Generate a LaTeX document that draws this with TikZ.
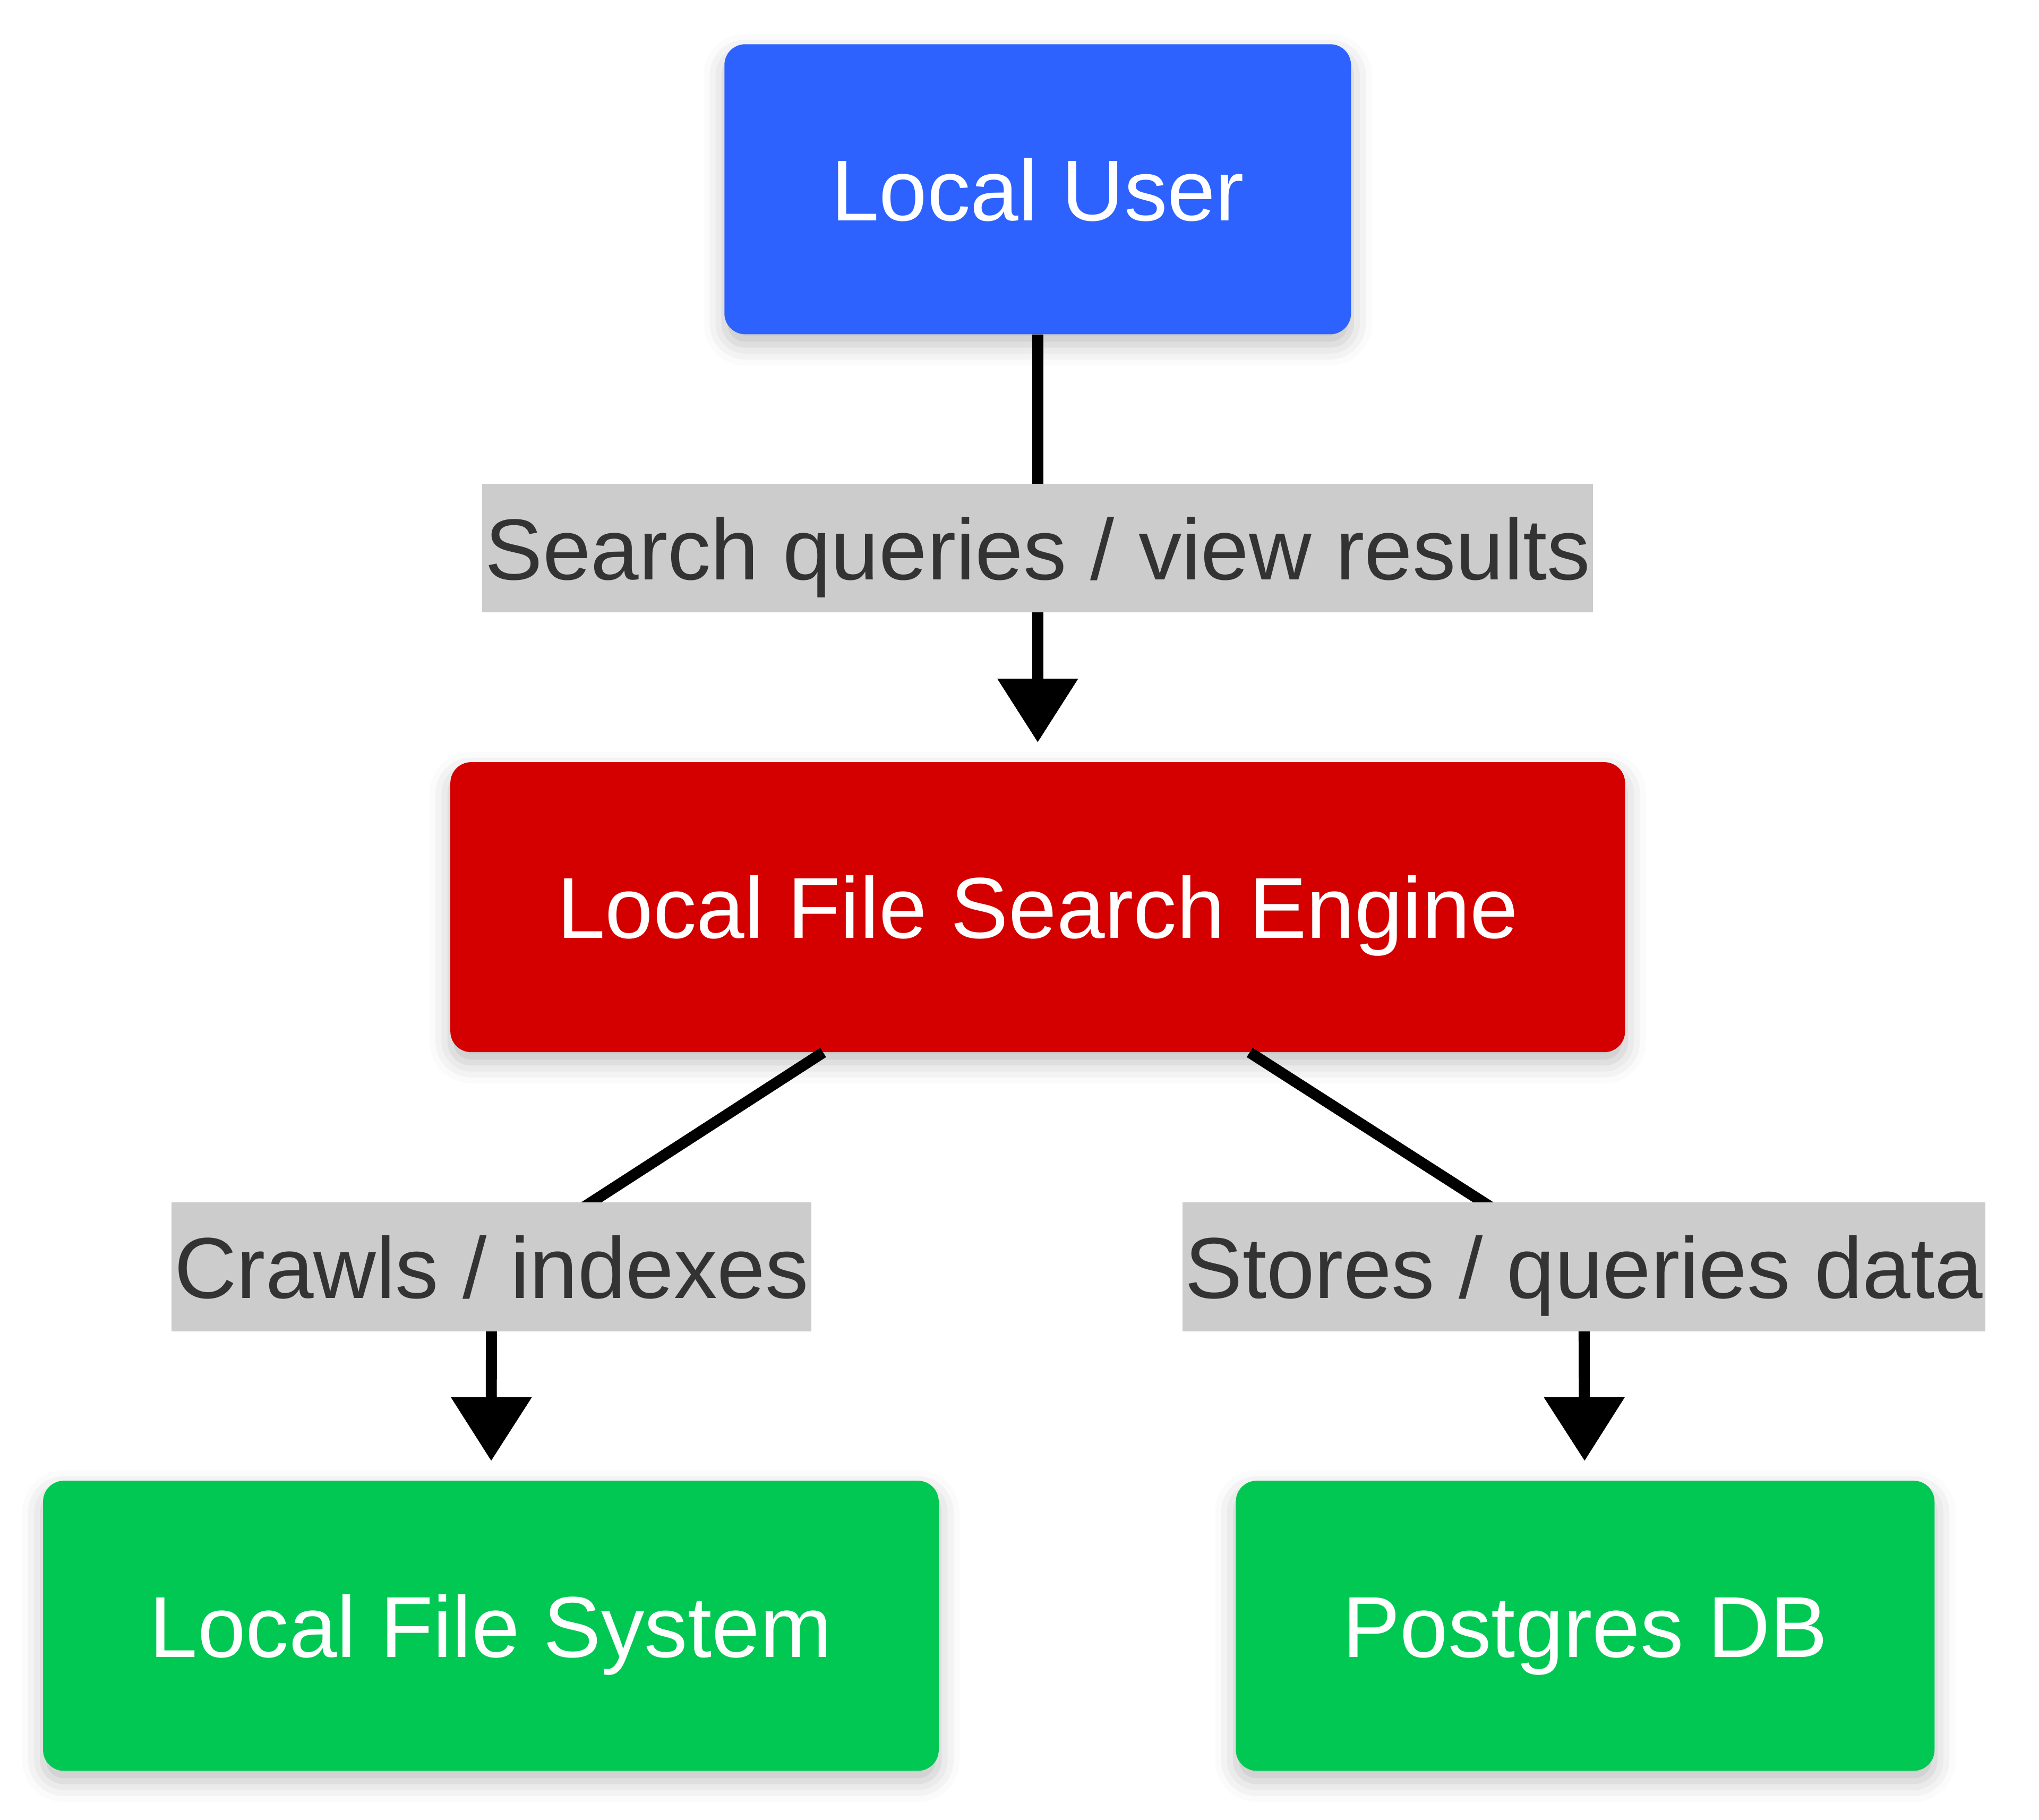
\documentclass[tikz,border=0pt]{standalone}
\usepackage{fontspec}
\setmainfont{Liberation Sans}
\usetikzlibrary{arrows.meta,shadows.blur}

\definecolor{userblue}{HTML}{2E62FF}
\definecolor{enginered}{HTML}{D40000}
\definecolor{storegreen}{HTML}{00C853}
\definecolor{lblgray}{HTML}{CCCCCC}
\definecolor{lbltext}{HTML}{333333}

\tikzset{
  box/.style={rounded corners=16pt, minimum height=223pt, inner xsep=82pt,
    text height=62pt, text depth=14pt,
    text=white, font=\fontsize{66.5}{80}\selectfont,
    blur shadow={shadow xshift=0pt, shadow yshift=-8pt, shadow opacity=25, shadow blur radius=16pt}},
  lbl/.style={fill=lblgray, text=lbltext, minimum height=99pt, inner xsep=2pt, inner ysep=0pt,
    text height=62pt, text depth=14pt,
    font=\fontsize{66.5}{80}\selectfont},
  flow/.style={line width=8.5pt, shorten >=15pt, -{Triangle[width=60pt,length=49pt]}}
}

\begin{document}
\begin{tikzpicture}[x=1pt,y=-1pt]
  \useasboundingbox (0,0) rectangle (1568,1399);

  \node[box, fill=userblue] (user) at (798,145.5) {Local User};
  \node[box, fill=enginered] (engine) at (798,697.5) {Local File Search Engine};
  \node[box, fill=storegreen] (fs) at (377.5,1250) {Local File System};
  \node[box, fill=storegreen] (db) at (1219,1250) {Postgres DB};

  \coordinate (lq) at (798,421.5);
  \coordinate (lc) at (378,974);
  \coordinate (ls) at (1218,974);

  \draw[flow] (user) -- (lq) -- (engine);
  \draw[flow] ([xshift=-165pt]engine.south) -- (lc) -- (fs);
  \draw[flow] ([xshift=163pt]engine.south) -- (ls) -- (db);

  \node[lbl] (lqn) at (lq) {Search queries / view results};
  \node[lbl] (lcn) at (lc) {Crawls / indexes};
  \node[lbl] (lsn) at (ls) {Stores / queries data};
\end{tikzpicture}
\end{document}
